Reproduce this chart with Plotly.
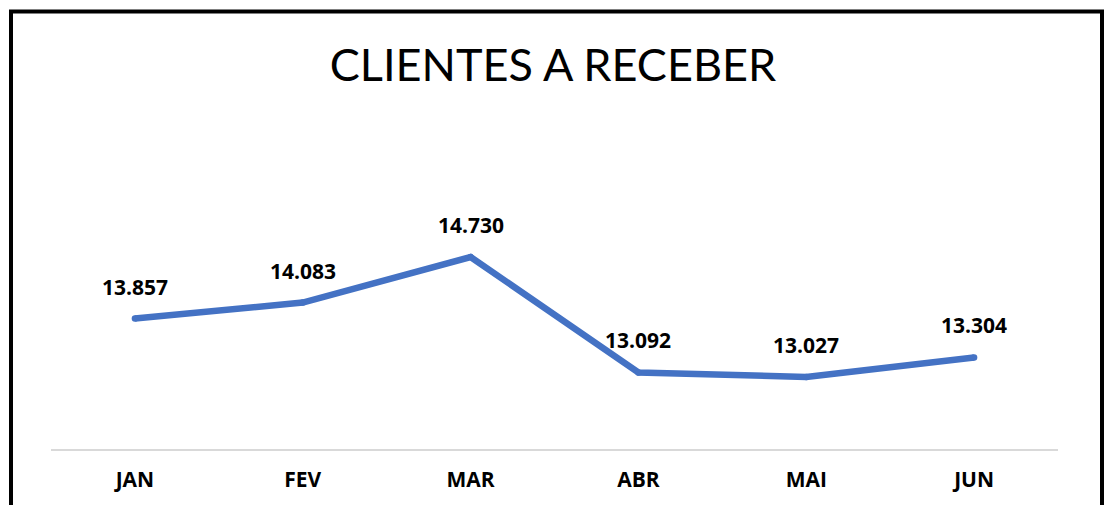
import plotly.graph_objects as go

months = ["JAN", "FEV", "MAR", "ABR", "MAI", "JUN"]
values = [13857, 14083, 14730, 13092, 13027, 13304]
labels = ["13.857", "14.083", "14.730", "13.092", "13.027", "13.304"]

W, H = 1106, 505
L, R, T, B = 51, 48, 200, 56
pw, ph = W - L - R, H - T - B
ppu = 120 / 1703.0
ymin = 12005
ymax = ymin + ph / ppu

fig = go.Figure()
fig.add_trace(go.Scatter(
    x=months, y=values, mode="lines+markers",
    line=dict(color="#4472C4", width=6.5, shape="linear"),
    marker=dict(color="#4472C4", size=6.5, line=dict(width=0)),
    hoverinfo="skip", showlegend=False, cliponaxis=False,
))
for m, v, t in zip(months, values, labels):
    fig.add_annotation(x=m, y=v, text="<b>" + t + "</b>", showarrow=False,
                       yshift=32, font=dict(family="Open Sans, sans-serif", size=21, color="#000000"))

def px_x(p):
    return (p - L) / pw
def px_y(p):
    return (H - B - p) / ph

fig.add_shape(type="rect", xref="paper", yref="paper",
              x0=px_x(11), x1=px_x(1102), y0=px_y(520), y1=px_y(11.5),
              line=dict(color="#000000", width=4), fillcolor="rgba(0,0,0,0)", layer="above")

fig.update_layout(
    width=W, height=H,
    margin=dict(l=L, r=R, t=T, b=B),
    paper_bgcolor="white", plot_bgcolor="white",
    title=dict(text="CLIENTES A RECEBER", x=0.5, xanchor="center",
               y=1 - 65 / H, yanchor="middle", yref="container",
               font=dict(family="Lato, sans-serif", size=45, color="#000000", weight=400)),
    xaxis=dict(type="category", range=[-0.5, 5.5], showgrid=False, zeroline=False,
               showline=True, linecolor="#D9D9D9", linewidth=2, ticks="",
               tickfont=dict(family="Open Sans, sans-serif", size=21, color="#000000", weight="bold"),
               ticklabelstandoff=11),
    yaxis=dict(range=[ymin, ymax], visible=False, showgrid=False, zeroline=False),
)

fig.write_html("out.html", config={"displayModeBar": False},
               post_script="document.body.style.margin='0px';document.body.style.overflow='hidden';")
